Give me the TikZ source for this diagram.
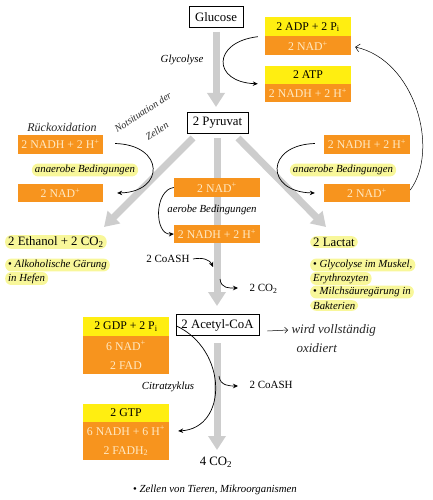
\documentclass[tikz,border=0pt]{standalone}
\usepackage{fontspec}
\setmainfont{Liberation Serif}
\usetikzlibrary{arrows.meta,calc}
\definecolor{ybox}{HTML}{FFEE11}
\definecolor{obox}{HTML}{F7941E}
\definecolor{otext}{HTML}{FFE9C4}
\definecolor{hl}{HTML}{F8F79A}
\definecolor{garrow}{HTML}{CDCDCD}
\begin{document}
\begin{tikzpicture}[x=1pt,y=-1pt,
  big/.style={font=\fontsize{12.8}{14}\selectfont},
  mainbox/.style={draw=black,line width=0.8pt,big,inner sep=0pt,minimum height=21pt},
  ybx/.style={fill=ybox,font=\fontsize{11.8}{13}\selectfont,inner sep=0pt,minimum width=86pt,minimum height=19pt},
  obx/.style={fill=obox,text=otext,font=\fontsize{11.8}{13}\selectfont,inner sep=0pt,minimum width=86pt,minimum height=19pt},
  obx2/.style={obx,minimum height=38pt,align=center,font=\fontsize{11.8}{19}\selectfont},
  hlt/.style={fill=hl,rounded corners=6pt,inner xsep=3pt,inner ysep=1.5pt},
  itl/.style={font=\fontsize{10.8}{12}\selectfont\itshape},
  hand/.style={font=\fontsize{10}{11}\selectfont\itshape,text=black!85},
  garr/.style={draw=garrow,line width=7pt,-{Triangle[width=17pt,length=14pt]}},
  carr/.style={draw=black,line width=0.7pt,-{Stealth[length=5pt,width=4.5pt]}}
]
\useasboundingbox (0,0) rectangle (433,500);

% main nodes
\node[mainbox,minimum width=54pt] (glucose) at (216,17) {Glucose};
\node[mainbox,minimum width=61pt] (pyruvat) at (217.5,122.5) {2 Pyruvat};
\node[mainbox,minimum width=83pt] (acetyl) at (217.5,325) {2 Acetyl-CoA};

% gray arrows (background)
\coordinate (g1s) at (216,32);   \coordinate (g1e) at (216,107);
\coordinate (g2s) at (193,138);  \coordinate (g2e) at (104,227);
\coordinate (g3s) at (238,138);  \coordinate (g3e) at (326,227);
\coordinate (g4s) at (217,138);  \coordinate (g4e) at (217,306);
\coordinate (g5s) at (217,343);  \coordinate (g5e) at (217,450);
\draw[garr] (g1s) -- (g1e);
\draw[garr] (g2s) -- (g2e);
\draw[garr] (g3s) -- (g3e);
\draw[garr] (g4s) -- (g4e);
\draw[garr] (g5s) -- (g5e);

% glycolysis boxes
\node[ybx] (adp) at (308,27) {2 ADP + 2 P\textsubscript{i}};
\node[obx] (nad1) at (308,46) {2 NAD\textsuperscript{+}};
\node[ybx,minimum height=18pt] (atp) at (308,75) {2 ATP};
\node[obx,minimum height=18pt] (nadh1) at (308,93) {2 NADH + 2 H\textsuperscript{+}};
\node[itl] (glyc) at (182,60) {Glycolyse};

% left anaerobic
\node[obx,minimum width=85pt] (lnadh) at (60.5,144.5) {2 NADH + 2 H\textsuperscript{+}};
\node[obx,minimum width=85pt,minimum height=18pt] (lnad) at (60.5,193) {2 NAD\textsuperscript{+}};
\node[itl,hlt] (lanae) at (85,170) {anaerobe Bedingungen};

% right anaerobic
\node[obx] (rnadh) at (367,144.5) {2 NADH + 2 H\textsuperscript{+}};
\node[obx,minimum height=18pt] (rnad) at (367,193) {2 NAD\textsuperscript{+}};
\node[itl,hlt] (ranae) at (343,170) {anaerobe Bedingungen};

% center aerobic
\node[obx] (cnad) at (217,187.5) {2 NAD\textsuperscript{+}};
\node[obx,minimum height=18pt] (cnadh) at (217,234) {2 NADH + 2 H\textsuperscript{+}};
\node[itl] (aerob) at (212,210) {aerobe Bedingungen};

% products
\node[big,hlt,anchor=west] (ethanol) at (5,242) {2 Ethanol + 2 CO\textsubscript{2}};
\node[itl,hlt,anchor=west] (alk1) at (5,265) {\upshape•\itshape\ Alkoholische Gärung};
\node[itl,hlt,anchor=west] (alk2) at (5,278.5) {in Hefen};
\node[big,hlt,anchor=west] (lactat) at (310,242) {2 Lactat};
\node[itl,hlt,anchor=west] (lac1) at (310,265) {\upshape•\itshape\ Glycolyse im Muskel,};
\node[itl,hlt,anchor=west] (lac2) at (310,278.5) {Erythrozyten};
\node[itl,hlt,anchor=west] (lac3) at (310,292) {\upshape•\itshape\ Milchsäuregärung in};
\node[itl,hlt,anchor=west] (lac4) at (310,305.5) {Bakterien};

% pyruvate dehydrogenase
\node[font=\fontsize{11}{12}\selectfont,anchor=east] (coash1) at (193,259) {2 CoASH};
\node[font=\fontsize{11}{12}\selectfont,anchor=west] (co2a) at (246,289) {2 CO\textsubscript{2}};
\coordinate (ca1) at (213,267);
\coordinate (cb0) at (220,279);
\coordinate (cb1) at (238,288);

% citrate cycle
\node[ybx] (gdp) at (126,326.5) {2 GDP + 2 P\textsubscript{i}};
\node[obx2] (nadfad) at (126,355) {6 NAD\textsuperscript{+}\\2 FAD};
\node[ybx,minimum height=18pt] (gtp) at (126,413) {2 GTP};
\node[obx2] (nadhfadh) at (126,441) {6 NADH + 6 H\textsuperscript{+}\\2 FADH\textsubscript{2}};
\node[itl] (citrat) at (168,387) {Citratzyklus};
\node[font=\fontsize{11}{12}\selectfont,anchor=west] (coash2) at (246,385) {2 CoASH};
\coordinate (cc0) at (219,376);
\coordinate (cc1) at (238,386);
\node[big] (co2b) at (216,462) {4 CO\textsubscript{2}};
\node[itl] (zellen) at (215,490) {\upshape•\itshape\ Zellen von Tieren, Mikroorganismen};

% handwritten notes
\node[hand,font=\fontsize{12}{13}\selectfont\itshape] (rueck) at (62,127) {Rückoxidation};
\node[hand,rotate=33,inner sep=0pt] (notsit) at (143,112) {Notsituation der};
\node[hand,rotate=33,inner sep=0pt] (zell) at (157,131) {Zellen};
\node[hand,font=\fontsize{13}{14}\selectfont\itshape,anchor=west] (wird) at (288,330) {wird vollständig};
\node[hand,font=\fontsize{13}{14}\selectfont\itshape,anchor=west] (oxid) at (293,348) {oxidiert};
\draw[line width=0.5pt,-{Straight Barb[length=3pt]}] ($(acetyl.east)+(8,6)$) -- (wird.west);

% black curved arrows
\draw[carr] ($(adp.south west)+(-7,0)$) .. controls (212,42) and (212,82) .. ($(nadh1.north west)+(-7,0)$);
\draw[carr] ($(lnadh.east)+(12,-1)$) .. controls (165,145) and (165,192) .. ($(lnad.east)+(14,0)$);
\draw[carr] ($(rnadh.west)+(-9,-1)$) .. controls (265,145) and (265,192) .. ($(rnad.west)+(-9,0)$);
\draw[carr] (cnad.west) .. controls (154,190) and (154,235) .. (cnadh.west);
\draw[line width=0.5pt,-{Straight Barb[length=4pt]}] ($(rnad.east)+(0,-3)$) .. controls (440,150) and (415,60) .. ($(nad1.east)+(4,1)$);
\draw[carr] (coash1.east) .. controls (203,257) and (210,260) .. (ca1);
\draw[carr] (cb0) .. controls (221,289) and (230,288) .. (cb1);
\draw[carr] ($(nadfad.north east)+(7,-10)$) .. controls (228,350) and (228,428) .. ($(nadhfadh.east)+(9,-10)$);
\draw[carr] (cc0) .. controls (220,386) and (230,386) .. (cc1);
\end{tikzpicture}
\end{document}
